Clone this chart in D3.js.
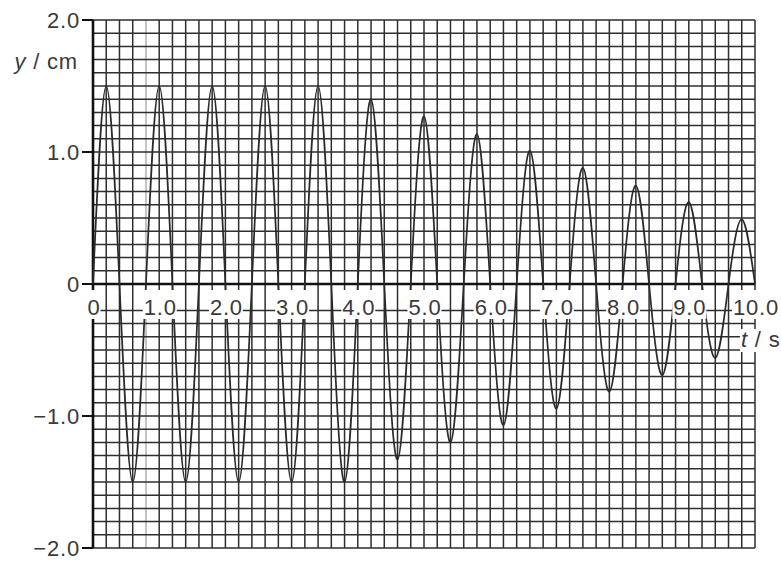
<!DOCTYPE html>
<html>
<head>
<meta charset="utf-8">
<script src="https://cdn.jsdelivr.net/npm/d3@7"></script>
<style>
  body { margin: 0; background: #fff; }
  text { font-family: "Liberation Sans", Arial, sans-serif; font-size: 22px; fill: #3a3a3a; letter-spacing: 0.8px; }
</style>
</head>
<body>
<script>
// displacement y (cm) read at every 0.2 s: zero crossings and extremes
const waveT = [0, 0.2, 0.4, 0.6, 0.8, 1.0, 1.2, 1.4, 1.6, 1.8, 2.0, 2.2, 2.4, 2.6, 2.8, 3.0, 3.2, 3.4, 3.6, 3.8,
  4.0, 4.2, 4.4, 4.6, 4.8, 5.0, 5.2, 5.4, 5.6, 5.8, 6.0, 6.2, 6.4, 6.6, 6.8, 7.0, 7.2, 7.4, 7.6, 7.8,
  8.0, 8.2, 8.4, 8.6, 8.8, 9.0, 9.2, 9.4, 9.6, 9.8, 10.0]
const waveY = [0, 1.5, 0, -1.5, 0, 1.5, 0, -1.5, 0, 1.5, 0, -1.5, 0, 1.5, 0, -1.5, 0, 1.5, 0, -1.5,
  0, 1.4, 0, -1.33, 0, 1.27, 0, -1.2, 0, 1.135, 0, -1.07, 0, 1.01, 0, -0.945, 0, 0.88, 0, -0.815,
  0, 0.745, 0, -0.69, 0, 0.62, 0, -0.56, 0, 0.49, 0]

const xTicks = [0, 1, 2, 3, 4, 5, 6, 7, 8, 9, 10]
const xTickLabels = ["0", "1.0", "2.0", "3.0", "4.0", "5.0", "6.0", "7.0", "8.0", "9.0", "10.0"]
const yTicks = [2, 1, 0, -1, -2]
const yTickLabels = ["2.0", "1.0", "0", "\u22121.0", "\u22122.0"]

const width = 781, height = 563

const svg = d3.select("body").append("svg")
  .attr("width", width)
  .attr("height", height)

const x = d3.scaleLinear().domain([0, 10]).range([93, 755])
const y = d3.scaleLinear().domain([-2, 2]).range([548, 20])

// graph paper
const grid = svg.append("g").attr("stroke", "#2e2e2e").attr("stroke-width", 1.5)
grid.selectAll("line.v")
  .data(x.ticks(50))
  .enter().append("line")
  .attr("class", "v")
  .attr("x1", d => x(d)).attr("x2", d => x(d))
  .attr("y1", y(2)).attr("y2", y(-2))
  .attr("stroke", d => Math.abs(d - 0.8) < 1e-6 ? "#c4c4c4" : null)
  .attr("stroke-width", d => Math.abs(d - 0.8) < 1e-6 ? 2 : null)
grid.selectAll("line.h")
  .data(y.ticks(40).filter(d => Math.abs(d + 0.1) > 1e-6))
  .enter().append("line")
  .attr("class", "h")
  .attr("x1", x(0)).attr("x2", x(10))
  .attr("y1", d => y(d)).attr("y2", d => y(d))

// axes
svg.append("line")
  .attr("x1", x(0)).attr("x2", x(0))
  .attr("y1", y(2)).attr("y2", y(-2))
  .attr("stroke", "#111").attr("stroke-width", 2.6)
svg.append("line")
  .attr("x1", x(0)).attr("x2", x(10))
  .attr("y1", y(0)).attr("y2", y(0))
  .attr("stroke", "#111").attr("stroke-width", 2.6)

svg.append("g").selectAll("line")
  .data(yTicks)
  .enter().append("line")
  .attr("x1", x(0) - 11).attr("x2", x(0))
  .attr("y1", d => y(d)).attr("y2", d => y(d))
  .attr("stroke", "#111").attr("stroke-width", 2)

// wave
const pts = waveT.map((t, i) => [t, waveY[i]])
const line = d3.line()
  .x(d => x(d[0]))
  .y(d => y(d[1]))
  .curve(d3.curveNatural)

svg.append("path")
  .datum(pts)
  .attr("d", line)
  .attr("fill", "none")
  .attr("stroke", "#2a2a2a")
  .attr("stroke-width", 1.7)

// y labels
svg.append("g").selectAll("text")
  .data(yTicks)
  .enter().append("text")
  .attr("x", 80)
  .attr("y", d => y(d) + 8)
  .attr("text-anchor", "end")
  .text((d, i) => yTickLabels[i])

const yTitle = svg.append("text")
  .attr("x", 78)
  .attr("y", 69)
  .attr("text-anchor", "end")
yTitle.append("tspan").attr("font-style", "italic").text("y")
yTitle.append("tspan").text(" / cm")

// x labels with white boxes behind them
const xl = svg.append("g")
xTicks.forEach((t, i) => {
  const g = xl.append("g")
  const txt = g.append("text")
    .attr("x", x(t) + 1)
    .attr("y", 315)
    .attr("text-anchor", "middle")
    .text(xTickLabels[i])
  const bb = txt.node().getBBox()
  g.insert("rect", "text")
    .attr("x", bb.x - 1).attr("y", 290)
    .attr("width", bb.width + 1).attr("height", 29)
    .attr("fill", "#fff")
})

const tg = svg.append("g")
const tTitle = tg.append("text")
  .attr("x", 741)
  .attr("y", 347)
tTitle.append("tspan").attr("font-style", "italic").text("t")
tTitle.append("tspan").text(" / s")
const tb = tTitle.node().getBBox()
tg.insert("rect", "text")
  .attr("x", tb.x - 1).attr("y", tb.y + 2)
  .attr("width", tb.width + 2).attr("height", tb.height - 2)
  .attr("fill", "#fff")
</script>
</body>
</html>
